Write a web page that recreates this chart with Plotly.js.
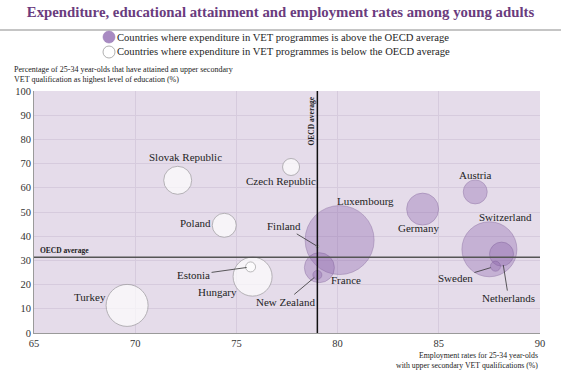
<!DOCTYPE html>
<html>
<head>
<meta charset="utf-8">
<script src="https://cdn.plot.ly/plotly-3.0.1.min.js"></script>
<style>html,body{margin:0;padding:0;background:#fff;}#chart{width:561px;height:373px;}</style>
</head>
<body>
<div id="chart"></div>
<script>
// ---- Data ----
// Countries where expenditure in VET programmes is above the OECD average
const aboveCountries = ['Luxembourg','Switzerland','Germany','France','Austria','Netherlands','Sweden','New Zealand'];
const aboveEmployment = [80.1, 87.5, 84.2, 79.1, 86.8, 88.1, 87.8, 79.0];
const aboveAttainment = [38.4, 34.6, 51.2, 27.0, 58.3, 32.6, 27.6, 24.0];
const aboveBubble = [69, 55, 32, 30, 24, 24, 10, 9];

// Countries where expenditure in VET programmes is below the OECD average
const belowCountries = ['Turkey','Hungary','Slovak Republic','Poland','Czech Republic','Estonia','Finland'];
const belowEmployment = [69.6, 75.8, 72.1, 74.4, 77.7, 75.7, 79.0];
const belowAttainment = [11.4, 23.3, 63.1, 44.5, 68.6, 27.3, 35.8];
const belowBubble = [42, 39, 28, 24, 17, 10, 3];

const oecdEmployment = 79.0;
const oecdAttainment = 31.3;

const xTicks = [65, 70, 75, 80, 85, 90];
const yTicks = [0, 10, 20, 30, 40, 50, 60, 70, 80, 90, 100];

const legendAbove = 'Countries where expenditure in VET programmes is above the OECD average';
const legendBelow = 'Countries where expenditure in VET programmes is below the OECD average';

// ---- Label placement (pixel offsets from each bubble) ----
const labelPlacement = {
  'Turkey': {dx: -37, dy: -8},
  'Slovak Republic': {dx: 8, dy: -23},
  'Poland': {dx: -29, dy: -2},
  'Czech Republic': {dx: -10, dy: 14},
  'Hungary': {dx: -35, dy: 15},
  'Estonia': {dx: -57, dy: 8, arrow: true, standoff: 4},
  'Finland': {dx: -33, dy: -20, arrow: true, standoff: 1},
  'New Zealand': {dx: -32, dy: 27, arrow: true, standoff: 4},
  'Luxembourg': {dx: 26, dy: -39},
  'France': {dx: 27, dy: 12},
  'Germany': {dx: -4, dy: 19},
  'Austria': {dx: 0, dy: -17},
  'Switzerland': {dx: 16, dy: -32},
  'Netherlands': {dx: 7, dy: 44, arrow: true, standoff: 11},
  'Sweden': {dx: -40, dy: 12, arrow: true, standoff: 5}
};

const serif = 'Liberation Serif, Times New Roman, serif';
const purpleFill = 'rgba(140,100,172,0.5)';
const purpleLine = 'rgba(110,75,140,0.6)';
const purpleLegend = '#a88ac2';

// plot area geometry in pixels (for paper-coordinate helpers)
const M = {l: 34, r: 21, t: 91, b: 40};
const W = 561, H = 373;
const PW = W - M.l - M.r, PH = H - M.t - M.b;
const px = v => (v - M.l) / PW;
const py = v => (H - M.b - v) / PH;

const traces = [
  {
    type: 'scatter', mode: 'markers', name: legendAbove, showlegend: false,
    x: aboveEmployment, y: aboveAttainment, text: aboveCountries,
    marker: {size: aboveBubble, sizemode: 'diameter', sizeref: 1, color: purpleFill,
             line: {color: purpleLine, width: 0.8}},
    hoverinfo: 'text+x+y'
  },
  {
    type: 'scatter', mode: 'markers', name: legendBelow, showlegend: false,
    x: belowEmployment, y: belowAttainment, text: belowCountries,
    marker: {size: belowBubble, sizemode: 'diameter', sizeref: 1, color: '#ffffff',
             line: {color: '#8a8a8a', width: 0.8}},
    hoverinfo: 'text+x+y'
  }
];

const annotations = [];
function addLabels(names, xs, ys) {
  names.forEach((n, i) => {
    const p = labelPlacement[n];
    if (p.arrow) {
      annotations.push({x: xs[i], y: ys[i], xref: 'x', yref: 'y', text: n,
        showarrow: true, arrowhead: 0, arrowwidth: 0.8, arrowcolor: '#333',
        ax: p.dx, ay: p.dy, standoff: p.standoff || 0,
        font: {family: serif, size: 11, color: '#1e1e1e'}});
    } else {
      annotations.push({x: xs[i], y: ys[i], xref: 'x', yref: 'y', text: n,
        showarrow: false, xshift: p.dx, yshift: -p.dy,
        font: {family: serif, size: 11, color: '#1e1e1e'}});
    }
  });
}
addLabels(aboveCountries, aboveEmployment, aboveAttainment);
addLabels(belowCountries, belowEmployment, belowAttainment);

annotations.push(
  {xref: 'paper', yref: 'y', x: 0.008, y: oecdAttainment, yshift: 0, xanchor: 'left', yanchor: 'bottom',
   text: '<b>OECD average</b>', showarrow: false, font: {family: serif, size: 7.5, color: '#222'}},
  {xref: 'x', yref: 'paper', x: oecdEmployment, y: 0.985, xshift: -6, xanchor: 'center', yanchor: 'top',
   text: '<b>OECD average</b>', textangle: -90, showarrow: false, font: {family: serif, size: 7.5, color: '#222'}},
  {xref: 'paper', yref: 'paper', x: px(12), y: py(74.5), xanchor: 'left', yanchor: 'middle', align: 'left',
   text: 'Percentage of 25-34 year-olds that have attained an upper secondary<br>VET qualification as highest level of education (%)',
   showarrow: false, font: {family: serif, size: 8, color: '#222'}},
  {xref: 'paper', yref: 'paper', x: 1.0, y: py(349), xanchor: 'right', yanchor: 'top', align: 'right',
   text: 'Employment rates for 25-34 year-olds<br>with upper secondary VET qualifications (%)',
   showarrow: false, font: {family: serif, size: 7.8, color: '#222'}},
  // legend texts
  {xref: 'paper', yref: 'paper', x: px(115), y: py(37), xanchor: 'left', yanchor: 'middle',
   text: legendAbove, showarrow: false, font: {family: serif, size: 10.6, color: '#1e1e1e'}},
  {xref: 'paper', yref: 'paper', x: px(115), y: py(52), xanchor: 'left', yanchor: 'middle',
   text: legendBelow, showarrow: false, font: {family: serif, size: 10.6, color: '#1e1e1e'}}
);

const layout = {
  width: W, height: H,
  margin: {l: M.l, r: M.r, t: M.t, b: M.b, pad: 0},
  paper_bgcolor: '#ffffff',
  plot_bgcolor: '#e5dcea',
  title: {text: '<b>Expenditure, educational attainment and employment rates among young adults</b>',
          font: {family: serif, size: 14.8, color: '#6a3c7e'},
          x: 0.5, xanchor: 'center', y: 0.968, yanchor: 'middle'},
  showlegend: false,
  xaxis: {range: [65, 90], tickvals: xTicks, ticktext: xTicks.map(String),
          showgrid: true, gridcolor: '#d6cbdd', gridwidth: 1, zeroline: false,
          showline: true, linecolor: '#9a9a9a', linewidth: 1,
          ticks: '', tickfont: {family: serif, size: 10.5, color: '#333'}},
  yaxis: {range: [0, 100], tickvals: yTicks, ticktext: yTicks.map(String),
          showgrid: true, gridcolor: '#d6cbdd', gridwidth: 1, zeroline: false,
          showline: true, linecolor: '#9a9a9a', linewidth: 1,
          ticks: '', tickfont: {family: serif, size: 10.5, color: '#333'}},
  shapes: [
    {type: 'line', xref: 'paper', yref: 'y', x0: 0, x1: 1, y0: oecdAttainment, y1: oecdAttainment,
     line: {color: '#555', width: 1.5}},
    {type: 'line', xref: 'x', yref: 'paper', x0: oecdEmployment, x1: oecdEmployment, y0: 0, y1: 1,
     line: {color: '#111', width: 1.5}},
    {type: 'line', xref: 'paper', yref: 'paper', x0: px(0), x1: px(561), y0: py(30), y1: py(30),
     line: {color: '#8c8c8c', width: 1.2}},
    // legend markers
    {type: 'circle', xref: 'paper', yref: 'paper', xsizemode: 'pixel', ysizemode: 'pixel',
     xanchor: px(109), yanchor: py(37), x0: -6, x1: 6, y0: -6, y1: 6,
     fillcolor: purpleLegend, line: {color: '#9a7db5', width: 0.6}},
    {type: 'circle', xref: 'paper', yref: 'paper', xsizemode: 'pixel', ysizemode: 'pixel',
     xanchor: px(109), yanchor: py(52), x0: -6, x1: 6, y0: -6, y1: 6,
     fillcolor: '#ffffff', line: {color: '#9a9a9a', width: 0.8}}
  ],
  annotations: annotations
};

Plotly.newPlot('chart', traces, layout, {staticPlot: true, displayModeBar: false});
</script>
</body>
</html>
